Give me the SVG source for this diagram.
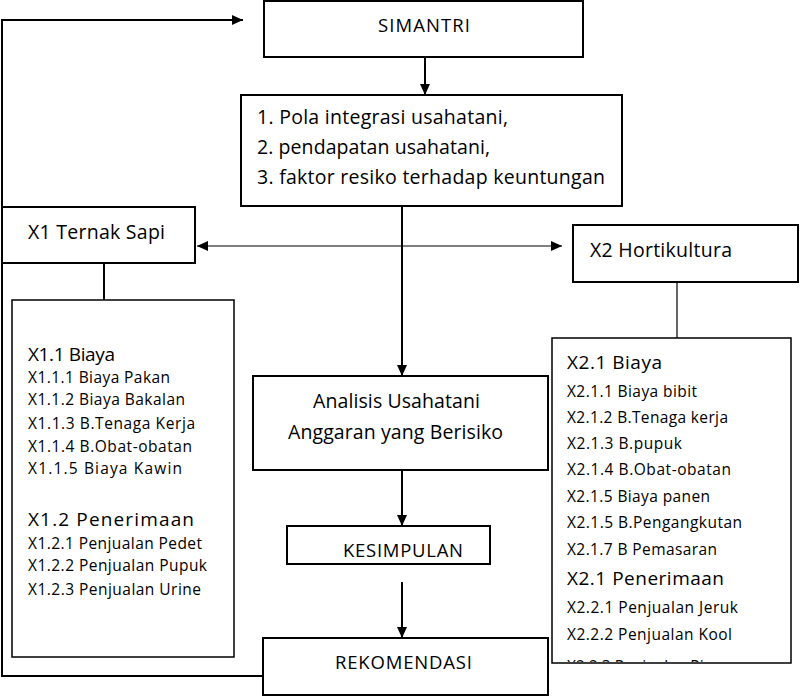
<svg xmlns="http://www.w3.org/2000/svg" width="800" height="696" viewBox="0 0 800 696">
<style>
.box{fill:#fff;stroke:#000;stroke-width:2}
.lbox{fill:#fff;stroke:#000;stroke-width:1.5}
.ln{fill:none;stroke:#000;stroke-width:2}
.thin{fill:none;stroke:#000;stroke-width:1.2}
text{font-family:"Open Sans","Liberation Sans",sans-serif;fill:#000}
.t{font-size:19.5px}
.c{font-size:18.5px}
.h{font-size:19px}
.i{font-size:15.5px}
</style>
<defs>
<marker id="ah" viewBox="0 0 11 10" refX="11" refY="5" markerWidth="11" markerHeight="10" markerUnits="userSpaceOnUse" orient="auto-start-reverse">
<path d="M0,0 L11,5 L0,10 z" fill="#000"/>
</marker>
<clipPath id="x2clip"><rect x="553" y="339" width="237" height="323"/></clipPath>
</defs>

<g id="connectors">
<path class="ln" d="M263,676 H2 V20 H243" stroke-width="2.5" marker-end="url(#ah)"/>
<path class="ln" d="M425,57 V95" marker-end="url(#ah)"/>
<path class="ln" d="M402,206 V376" marker-end="url(#ah)"/>
<path class="thin" d="M197,246 H562" marker-start="url(#ah)" marker-end="url(#ah)"/>
<path class="ln" d="M104,263 V300"/>
<path class="thin" d="M677,282 V338"/>
<path class="ln" d="M402,470 V526" marker-end="url(#ah)"/>
<path class="ln" d="M402,582 V638" marker-end="url(#ah)"/>
</g>

<g id="simantri">
<rect class="box" x="264" y="1" width="319" height="56"/>
<text class="c" x="378" y="32" textLength="92">SIMANTRI</text>
</g>

<g id="tujuan">
<rect class="box" x="241" y="95" width="381" height="111"/>
<text class="t" x="257" y="124" textLength="251">1. Pola integrasi usahatani,</text>
<text class="t" x="257" y="154" textLength="233">2. pendapatan usahatani,</text>
<text class="t" x="257" y="184" textLength="348">3. faktor resiko terhadap keuntungan</text>
</g>

<g id="x1">
<rect class="box" x="2" y="207" width="193" height="56"/>
<text class="t" x="28" y="239" textLength="137">X1 Ternak Sapi</text>
</g>

<g id="x2">
<rect class="box" x="573" y="225" width="225" height="57"/>
<text class="t" x="590" y="257" textLength="142">X2 Hortikultura</text>
</g>

<g id="x1-list">
<rect class="lbox" x="12" y="300" width="222" height="357"/>
<text class="h" x="28" y="361" textLength="87">X1.1 Biaya</text>
<text class="i" x="28" y="383" textLength="142">X1.1.1 Biaya Pakan</text>
<text class="i" x="28" y="405" textLength="157">X1.1.2 Biaya Bakalan</text>
<text class="i" x="28" y="429" textLength="167">X1.1.3 B.Tenaga Kerja</text>
<text class="i" x="28" y="452" textLength="164">X1.1.4 B.Obat-obatan</text>
<text class="i" x="28" y="474" textLength="154">X1.1.5 Biaya Kawin</text>
<text class="h" x="28" y="526" textLength="166">X1.2 Penerimaan</text>
<text class="i" x="28" y="549" textLength="174">X1.2.1 Penjualan Pedet</text>
<text class="i" x="28" y="571" textLength="179">X1.2.2 Penjualan Pupuk</text>
<text class="i" x="28" y="595" textLength="173">X1.2.3 Penjualan Urine</text>
</g>

<g id="x2-list">
<rect class="lbox" x="552" y="338" width="239" height="325"/>
<g clip-path="url(#x2clip)">
<text class="h" x="567" y="369" textLength="95">X2.1 Biaya</text>
<text class="i" x="567" y="397" textLength="130">X2.1.1 Biaya bibit</text>
<text class="i" x="567" y="423" textLength="161">X2.1.2 B.Tenaga kerja</text>
<text class="i" x="567" y="449" textLength="115">X2.1.3 B.pupuk</text>
<text class="i" x="567" y="475" textLength="164">X2.1.4 B.Obat-obatan</text>
<text class="i" x="567" y="502" textLength="143">X2.1.5 Biaya panen</text>
<text class="i" x="567" y="528" textLength="175">X2.1.5 B.Pengangkutan</text>
<text class="i" x="567" y="555" textLength="150">X2.1.7 B Pemasaran</text>
<text class="h" x="567" y="585" textLength="157">X2.1 Penerimaan</text>
<text class="i" x="567" y="613" textLength="171">X2.2.1 Penjualan Jeruk</text>
<text class="i" x="567" y="640" textLength="165">X2.2.2 Penjualan Kool</text>
<text class="i" x="567" y="672">X2.2.3 Penjualan Pi</text>
</g>
</g>

<g id="analisis">
<rect class="box" x="253" y="376" width="295" height="94"/>
<text class="t" x="313" y="408" textLength="167">Analisis Usahatani</text>
<text class="t" x="288" y="439" textLength="215">Anggaran yang Berisiko</text>
</g>

<g id="kesimpulan">
<rect class="box" x="287" y="526" width="203" height="38"/>
<text class="c" x="343" y="557" textLength="120">KESIMPULAN</text>
</g>

<g id="rekomendasi">
<rect class="box" x="263" y="638" width="285" height="57"/>
<text class="c" x="335" y="669" textLength="137">REKOMENDASI</text>
</g>
</svg>
